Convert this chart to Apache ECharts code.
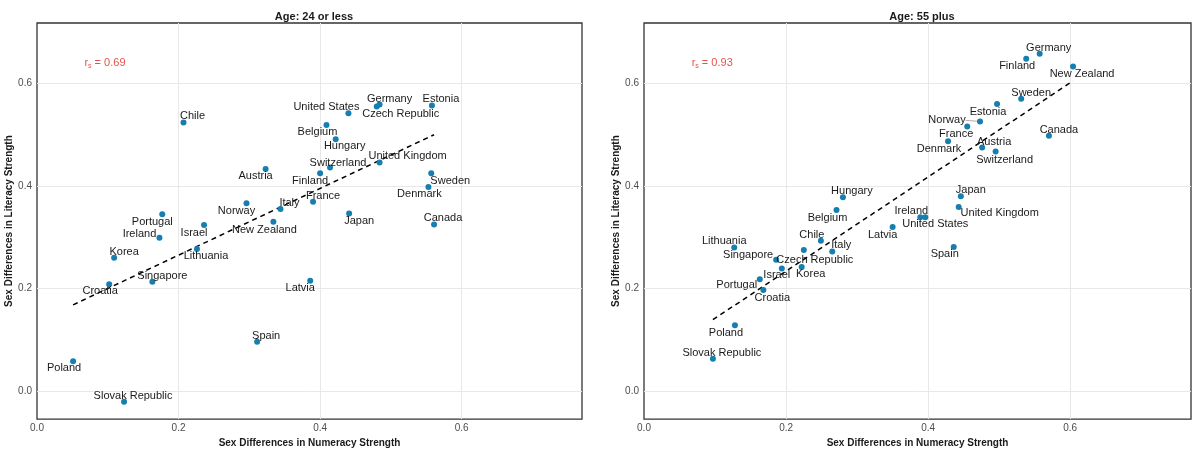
<!DOCTYPE html>
<html>

<head>
  <meta charset="UTF-8">
  <title>Sex differences by age</title>
  <style>
  html,
  body {
    margin: 0;
    padding: 0;
    background: #fff;
  }

  #chart {
    width: 1200px;
    height: 453px;
  }
  </style>
  <script src="https://cdn.jsdelivr.net/npm/echarts@6.0.0/dist/echarts.min.js"></script>
</head>

<body>
  <div id="chart"></div>
  <script type="text/javascript">
  // --- data ---
  var countries24 = ['Chile', 'United States', 'Germany', 'Czech Republic', 'Estonia', 'Belgium', 'Hungary',
    'Switzerland', 'United Kingdom', 'Austria', 'Finland', 'Sweden', 'Denmark', 'France', 'Norway', 'Italy',
    'Japan', 'Canada', 'Portugal', 'Israel', 'New Zealand', 'Ireland', 'Korea', 'Lithuania', 'Singapore',
    'Croatia', 'Latvia', 'Spain', 'Poland', 'Slovak Republic'];
  var numeracy24 = [0.207, 0.440, 0.484, 0.480, 0.558, 0.409, 0.422, 0.414, 0.484, 0.323, 0.400, 0.557, 0.553,
    0.390, 0.296, 0.344, 0.441, 0.561, 0.177, 0.236, 0.334, 0.173, 0.109, 0.226, 0.163, 0.102, 0.386, 0.311,
    0.051, 0.123];
  var literacy24 = [0.524, 0.542, 0.559, 0.555, 0.557, 0.519, 0.491, 0.436, 0.446, 0.433, 0.425, 0.425, 0.398,
    0.369, 0.366, 0.355, 0.346, 0.325, 0.345, 0.324, 0.330, 0.299, 0.260, 0.277, 0.213, 0.208, 0.215, 0.096,
    0.058, -0.021];
  var fitX24 = [0.051, 0.561];
  var fitY24 = [0.168, 0.500];

  var countries55 = ['Germany', 'Finland', 'New Zealand', 'Sweden', 'Estonia', 'Norway', 'France', 'Canada',
    'Denmark', 'Austria', 'Switzerland', 'Hungary', 'Japan', 'Belgium', 'United Kingdom', 'Ireland',
    'United States', 'Latvia', 'Spain', 'Lithuania', 'Chile', 'Czech Republic', 'Italy', 'Singapore', 'Israel',
    'Korea', 'Portugal', 'Croatia', 'Poland', 'Slovak Republic'];
  var numeracy55 = [0.557, 0.538, 0.604, 0.531, 0.497, 0.473, 0.455, 0.570, 0.428, 0.476, 0.495, 0.280, 0.446,
    0.271, 0.443, 0.389, 0.396, 0.350, 0.436, 0.127, 0.249, 0.225, 0.265, 0.186, 0.194, 0.222, 0.163, 0.168,
    0.128, 0.097];
  var literacy55 = [0.658, 0.648, 0.633, 0.570, 0.560, 0.526, 0.516, 0.498, 0.487, 0.475, 0.467, 0.378, 0.380,
    0.353, 0.359, 0.339, 0.339, 0.320, 0.281, 0.280, 0.293, 0.275, 0.272, 0.256, 0.239, 0.242, 0.218, 0.197,
    0.128, 0.063];
  var fitX55 = [0.097, 0.604];
  var fitY55 = [0.139, 0.605];

  var panelTitles = ['Age: 24 or less', 'Age: 55 plus'];
  var rhoValues = ['0.69', '0.93'];
  var rhoX = 0.096;
  var rhoY = 0.64;
  var xTickLabels = ['0.0', '0.2', '0.4', '0.6'];
  var yTickLabels = ['0.0', '0.2', '0.4', '0.6'];

  // label nudges in pixels (label centre relative to the dot)
  var nudge24 = {
    'Chile': [9, -6], 'United States': [-22, -6], 'Germany': [10, -6], 'Czech Republic': [24, 7],
    'Estonia': [9, -7], 'Belgium': [-9, 7], 'Hungary': [9, 7], 'Switzerland': [8, -5],
    'United Kingdom': [28, -6], 'Austria': [-10, 7], 'Finland': [-10, 8], 'Sweden': [19, 8],
    'Denmark': [-9, 7], 'France': [10, -6], 'Norway': [-10, 8], 'Italy': [9, -6], 'Japan': [10, 7],
    'Canada': [9, -6], 'Portugal': [-10, 8], 'Israel': [-10, 8], 'New Zealand': [-9, 8], 'Ireland': [-20, -4],
    'Korea': [10, -6], 'Lithuania': [9, 7], 'Singapore': [10, -6], 'Croatia': [-9, 7], 'Latvia': [-10, 7],
    'Spain': [9, -6], 'Poland': [-9, 7], 'Slovak Republic': [9, -6]
  };
  var nudge55 = {
    'Germany': [9, -6], 'Finland': [-9, 7], 'New Zealand': [9, 7], 'Sweden': [10, -6], 'Estonia': [-9, 8],
    'Norway': [-33, -1], 'France': [-11, 7], 'Canada': [10, -6], 'Denmark': [-9, 8], 'Austria': [12, -6],
    'Switzerland': [9, 8], 'Hungary': [9, -6], 'Japan': [10, -6], 'Belgium': [-9, 8],
    'United Kingdom': [41, 6], 'Ireland': [-9, -6], 'United States': [10, 7], 'Latvia': [-10, 8],
    'Spain': [-9, 7], 'Lithuania': [-10, -6], 'Chile': [-9, -6], 'Czech Republic': [11, 10], 'Italy': [9, -7],
    'Singapore': [-28, -5], 'Israel': [-5, 7], 'Korea': [9, 7], 'Portugal': [-23, 6], 'Croatia': [9, 8],
    'Poland': [-9, 8], 'Slovak Republic': [9, -6]
  };

  var font = 'Liberation Sans, Arial, Helvetica, sans-serif';
  var dotColor = '#167fb0';
  var rhoColor = '#e2261c';

  var myChart = echarts.init(document.getElementById('chart'));

  function tickFormatter(list) {
    return function(v) {
      var s = (Math.round(v * 1000) / 1000).toFixed(1);
      return list.indexOf(s) >= 0 && Math.abs(v - parseFloat(s)) < 1e-6 ? s : '';
    };
  }

  function majorX(grid) {
    return {
      type: 'value', gridIndex: grid, min: 0, max: 0.77, interval: 0.2,
      name: 'Sex Differences in Numeracy Strength', nameLocation: 'middle', nameGap: 14,
      nameTextStyle: { fontFamily: font, fontWeight: 'bold', fontSize: 10, color: '#1a1a1a' },
      axisLine: { show: false }, axisTick: { show: false },
      axisLabel: { margin: 4, fontFamily: font, fontSize: 10, color: '#4d4d4d', formatter: tickFormatter(xTickLabels) },
      splitLine: { show: true, showMinLine: false, showMaxLine: false, lineStyle: { color: '#e8e8e8', width: 1 } }
    };
  }

  function minorX(grid) {
    return {
      type: 'value', gridIndex: grid, min: 0, max: 0.77, interval: 0.1,
      axisLine: { show: false }, axisTick: { show: false }, axisLabel: { show: false },
      splitLine: { show: true, showMinLine: false, showMaxLine: false, lineStyle: { color: '#f2f2f2', width: 0.8 } }
    };
  }

  function majorY(grid) {
    return {
      type: 'value', gridIndex: grid, min: -0.055, max: 0.718, splitNumber: 4,
      name: 'Sex Differences in Literacy Strength', nameLocation: 'middle', nameGap: 20, nameRotate: 90,
      nameTextStyle: { fontFamily: font, fontWeight: 'bold', fontSize: 10, color: '#1a1a1a' },
      axisLine: { show: false }, axisTick: { show: false },
      axisLabel: { margin: 5, fontFamily: font, fontSize: 10, color: '#4d4d4d', formatter: tickFormatter(yTickLabels) },
      splitLine: { show: true, showMinLine: false, showMaxLine: false, lineStyle: { color: '#e8e8e8', width: 1 } }
    };
  }

  function minorY(grid) {
    return {
      type: 'value', gridIndex: grid, min: -0.055, max: 0.718, splitNumber: 8,
      axisLine: { show: false }, axisTick: { show: false }, axisLabel: { show: false },
      splitLine: { show: true, showMinLine: false, showMaxLine: false, lineStyle: { color: '#f2f2f2', width: 0.8 } }
    };
  }

  function panelSeries(p, countries, xs, ys, nudge, fitX, fitY) {
    var ax = p * 2;
    var points = [];
    for (var i = 0; i < countries.length; i++) {
      var item = { name: countries[i], value: [xs[i], ys[i]] };
      if (countries[i] === 'Norway' && p === 1) {
        item.labelLine = { show: true, lineStyle: { color: '#9a9a9a', width: 0.8 } };
      }
      points.push(item);
    }
    return [{
      type: 'line',
      xAxisIndex: ax, yAxisIndex: ax,
      data: [[fitX[0], fitY[0]], [fitX[1], fitY[1]]],
      showSymbol: false, silent: true, z: 2,
      lineStyle: { color: '#000', width: 1.5, type: [5, 4] }
    }, {
      type: 'scatter',
      xAxisIndex: ax, yAxisIndex: ax,
      data: points,
      symbolSize: 6, z: 3,
      itemStyle: { color: dotColor, opacity: 1 },
      label: {
        show: true, position: 'inside', formatter: '{b}',
        fontFamily: font, fontSize: 11, color: '#1a1a1a',
        textBorderWidth: 0
      },
      labelLine: { show: false },
      labelLayout: function(params) {
        var off = nudge[countries[params.dataIndex]] || [0, 0];
        return { dx: off[0], dy: off[1] };
      }
    }, {
      type: 'scatter',
      xAxisIndex: ax, yAxisIndex: ax,
      data: [[rhoX, rhoY]],
      symbolSize: 0, silent: true, z: 4,
      label: {
        show: true, position: 'inside', textBorderWidth: 0,
        formatter: '{r|r}{s|s}{r| = ' + rhoValues[p] + '}',
        rich: {
          r: { fontFamily: font, fontSize: 11, color: rhoColor, textBorderWidth: 0 },
          s: { fontFamily: font, fontSize: 7, color: rhoColor, textBorderWidth: 0, padding: [6, 0, 0, 0] }
        }
      }
    }];
  }

  var option = {
    animation: false,
    backgroundColor: '#fff',
    title: [{
      text: panelTitles[0], left: 309, top: 6, textAlign: 'center',
      textStyle: { fontFamily: font, fontWeight: 'bold', fontSize: 11, color: '#1a1a1a' }
    }, {
      text: panelTitles[1], left: 917, top: 6, textAlign: 'center',
      textStyle: { fontFamily: font, fontWeight: 'bold', fontSize: 11, color: '#1a1a1a' }
    }],
    grid: [
      { left: 37, top: 23, width: 545, height: 398, show: true, backgroundColor: '#fff', borderColor: '#333', borderWidth: 1.3 },
      { left: 644, top: 23, width: 547, height: 398, show: true, backgroundColor: '#fff', borderColor: '#333', borderWidth: 1.3 }
    ],
    xAxis: [majorX(0), minorX(0), majorX(1), minorX(1)],
    yAxis: [majorY(0), minorY(0), majorY(1), minorY(1)],
    series: panelSeries(0, countries24, numeracy24, literacy24, nudge24, fitX24, fitY24)
      .concat(panelSeries(1, countries55, numeracy55, literacy55, nudge55, fitX55, fitY55))
  };

  // minor axes drawn first so the major grid lines sit on top
  option.xAxis[1].z = -1;
  option.xAxis[3].z = -1;
  option.yAxis[1].z = -1;
  option.yAxis[3].z = -1;

  myChart.setOption(option);
  </script>
</body>

</html>
